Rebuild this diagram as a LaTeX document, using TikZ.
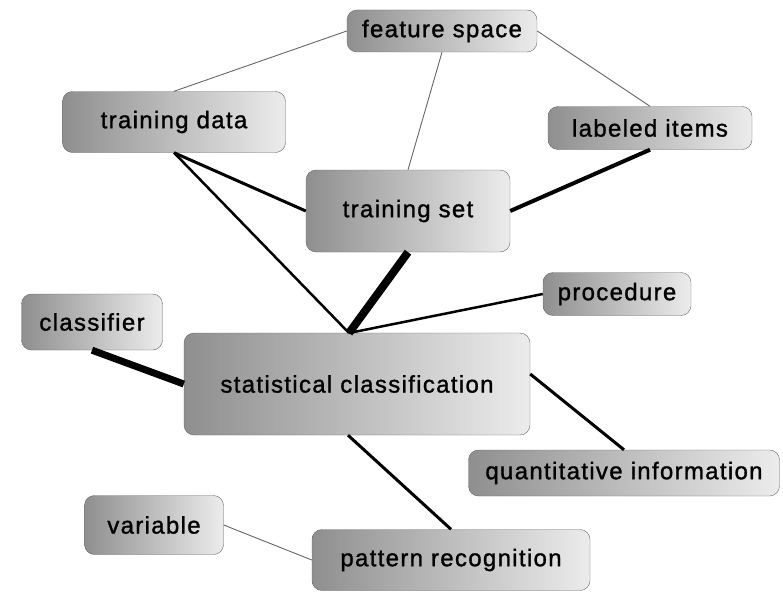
\documentclass[tikz,border=0pt]{standalone}
\usepackage{fontspec}
\setmainfont{Liberation Sans}[LetterSpace=5.5,FakeBold=1.2]
\usepackage{tikz}

\begin{document}
\begin{tikzpicture}[x=1pt,y=-1pt,
    concept/.style={draw=gray!80!black,rounded corners=10pt,inner sep=0pt,
        left color=gray!88,right color=gray!15,font=\fontsize{24}{27}\selectfont},
    weak/.style={draw=gray!80!black,line width=0.9pt},
    link/.style={draw=black,line width=#1}]

    \useasboundingbox (0,0) rectangle (783,594);

    \node[concept,minimum width=190,minimum height=42] (fs) at (442,31) {feature space};
    \node[concept,minimum width=223,minimum height=61] (td) at (174,122) {training data};
    \node[concept,minimum width=204,minimum height=43] (li) at (650,128) {labeled items};
    \node[concept,minimum width=204,minimum height=82] (ts) at (408,211) {training set};
    \node[concept,minimum width=148,minimum height=43] (pc) at (617,294) {procedure};
    \node[concept,minimum width=141,minimum height=56] (cl) at (92,322) {classifier};
    \node[concept,minimum width=346,minimum height=102] (sc) at (357,384) {statistical classification};
    \node[concept,minimum width=311,minimum height=46] (qi) at (624,473) {quantitative information};
    \node[concept,minimum width=139,minimum height=59] (va) at (154,525) {variable};
    \node[concept,minimum width=278,minimum height=61] (pr) at (451,560) {pattern recognition};

    \coordinate (hub) at (349,333);

    \path[weak] (fs.west) edge (td.north);
    \path[weak] (fs.south) edge (ts.north);
    \path[weak] (fs.east) edge (li.north);
    \path[link=3pt] (td.south) edge (ts.west);
    \path[link=2.5pt] (td.south) edge (hub);
    \path[link=4pt] (li.south) edge (ts.east);
    \path[link=8pt] (ts.south) edge (hub);
    \path[link=2.5pt] (pc.west) edge (hub);
    \path[link=7pt] (cl.south) edge (sc.west);
    \path[link=3pt] ([yshift=10]sc.east) edge (qi.north);
    \path[link=3pt] ([xshift=-9]sc.south) edge (pr.north);
    \path[weak] (va.east) edge (pr.west);
\end{tikzpicture}
\end{document}
